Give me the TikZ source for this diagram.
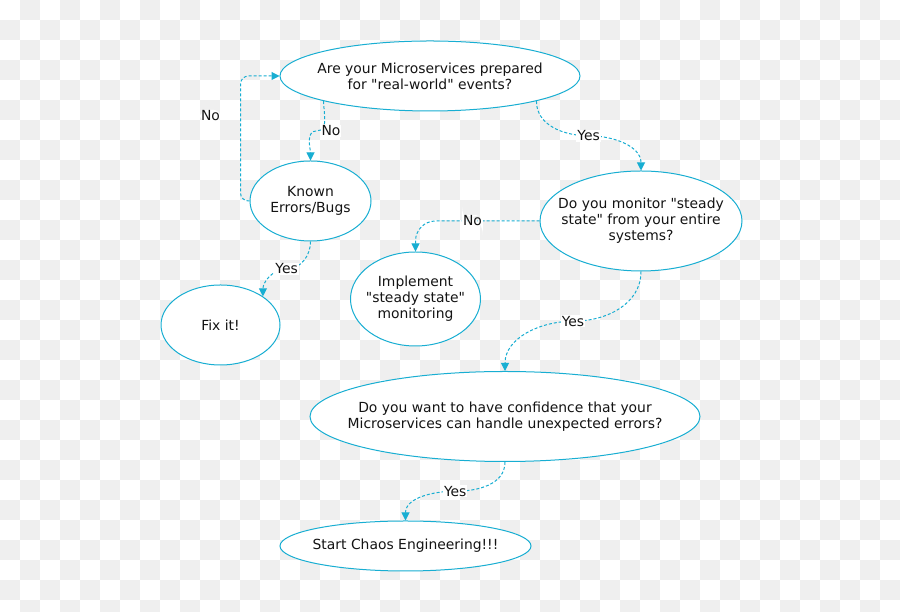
\documentclass[tikz,border=0pt]{standalone}
\usepackage{fontspec}
\setmainfont{DejaVu Sans}[Ligatures=TeXOff]
\usepackage{xcolor}
\usepackage{tikz}
\usetikzlibrary{shapes.geometric, arrows.meta, calc}
\definecolor{FlowBlue}{RGB}{24, 174, 210}
\definecolor{CheckGrey}{RGB}{239, 239, 239}
\definecolor{InkText}{RGB}{20, 20, 20}

\begin{document}
\begin{tikzpicture}[x=1pt, y=1pt, font=\fontsize{13.9}{16}\selectfont]
        \tikzset{
            q_ellipse/.style={ellipse, draw=FlowBlue, line width=1pt, fill=white, inner sep=0pt},
            q_text/.style={align=center, inner sep=0pt, text=InkText},
            flow_line/.style={draw=FlowBlue, line width=1pt, dash pattern=on 3pt off 2pt, -{Triangle[width=8pt, length=8pt]}},
            flow_label/.style={fill=white, inner sep=1pt, text=InkText}
        }

        % transparent-looking checker background
        \useasboundingbox (0,0) rectangle (900,612);
        \clip (0,0) rectangle (900,612);
        \fill[white] (0,0) rectangle (900,612);
        \foreach \c in {0,...,44} {
            \foreach \r in {0,...,30} {
                \pgfmathtruncatemacro\odd{mod(\c+\r,2)}
                \ifnum\odd=1
                    \fill[CheckGrey] (20*\c, 612-20*\r) rectangle ++(20,-20);
                \fi
            }
        }

        \node[q_ellipse, minimum width=300pt, minimum height=70pt] (q1) at (430,536) {};
        \node[q_text] (q1_text) at (q1) {Are your Microservices prepared\\for "real-world" events?};

        \node[q_ellipse, minimum width=121pt, minimum height=80pt] (known) at (310.5,411) {};
        \node[q_text] (known_text) at (known) {Known\\Errors/Bugs};

        \node[q_ellipse, minimum width=202pt, minimum height=100pt] (monitor) at (641,391) {};
        \node[q_text] (monitor_text) at (monitor) {Do you monitor "steady\\state" from your entire\\systems?};

        \node[q_ellipse, minimum width=130pt, minimum height=94pt] (impl) at (415.5,313) {};
        \node[q_text] (impl_text) at (impl) {Implement\\"steady state"\\monitoring};

        \node[q_ellipse, minimum width=119pt, minimum height=80pt] (fix) at (220.5,287) {};
        \node[q_text] (fix_text) at (fix) {Fix it!};

        \node[q_ellipse, minimum width=390pt, minimum height=90pt] (confid) at (505,195.5) {};
        \node[q_text] (confid_text) at (confid) {Do you want to have confidence that your\\Microservices can handle unexpected errors?};

        \node[q_ellipse, minimum width=251pt, minimum height=50pt] (start) at (405.5,66) {};
        \node[q_text] (start_text) at (start) {Start Chaos Engineering!!!};

        % connectors
        \draw[flow_line, rounded corners=8pt] (known.west) -- ++(-9,0) |- node[pos=0.34, left=19pt, flow_label] {No} (q1.west);
        \draw[flow_line] (q1.south west) to[out=-90, in=0] ($(q1.south west)!0.5!(known.north)$) node[right=3pt, flow_label] {No} to[out=180, in=90] (known.north);
        \draw[flow_line] (q1.south east) to[out=-90, in=180] ($(q1.south east)!0.5!(monitor.north)$) node[flow_label] {Yes} to[out=0, in=90] (monitor.north);
        \draw[flow_line, rounded corners=20pt] (monitor.west) -| node[pos=0.27, flow_label] {No} (impl.north);
        \draw[flow_line] (known.south) to[out=-90, in=0] ($(known.south)!0.5!(fix.north east)$) node[flow_label] {Yes} to[out=180, in=90] (fix.north east);
        \draw[flow_line] (monitor.south) to[out=-90, in=0] ($(monitor.south)!0.5!(confid.north)$) node[flow_label] {Yes} to[out=180, in=90] (confid.north);
        \draw[flow_line] (confid.south) to[out=-90, in=0] ($(confid.south)!0.5!(start.north)$) node[flow_label] {Yes} to[out=180, in=90] (start.north);

    \end{tikzpicture}
\end{document}
